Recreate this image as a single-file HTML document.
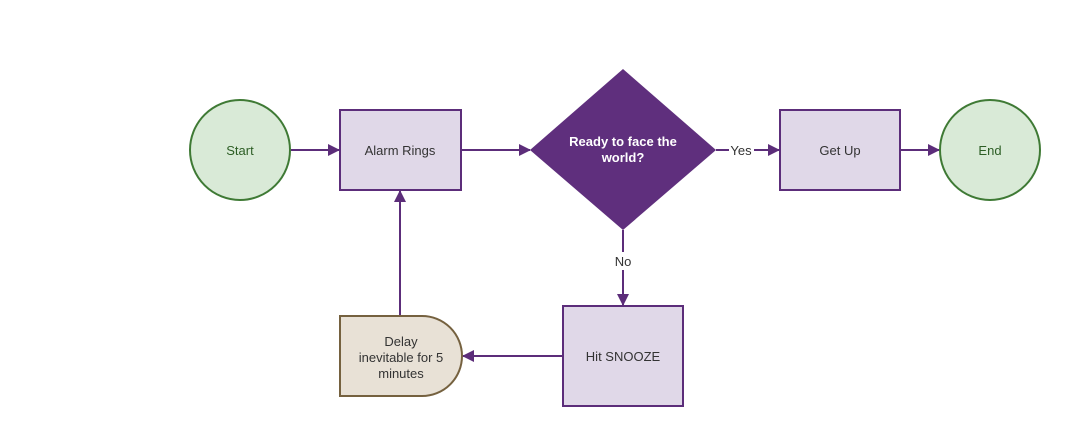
<!DOCTYPE html>
<html><head><style>body{margin:0;background:#fff}svg{display:block}</style></head><body>
<svg width="1066" height="426" viewBox="0 0 1066 426" xmlns="http://www.w3.org/2000/svg" font-family="Liberation Sans, sans-serif" font-size="13">
<defs><marker id="a" markerWidth="12" markerHeight="12" refX="11" refY="6" orient="auto" markerUnits="userSpaceOnUse"><path d="M0,0 L12,6 L0,12 z" fill="#5c2d7a"/></marker></defs>
<g stroke="#5c2d7a" stroke-width="2" fill="none">
<line x1="291" y1="150" x2="339" y2="150" marker-end="url(#a)"/>
<line x1="462" y1="150" x2="530" y2="150" marker-end="url(#a)"/>
<line x1="716" y1="150" x2="729" y2="150"/>
<line x1="754" y1="150" x2="779" y2="150" marker-end="url(#a)"/>
<line x1="901" y1="150" x2="939" y2="150" marker-end="url(#a)"/>
<line x1="623" y1="230" x2="623" y2="252"/>
<line x1="623" y1="270" x2="623" y2="305" marker-end="url(#a)"/>
<line x1="563" y1="356" x2="463" y2="356" marker-end="url(#a)"/>
<line x1="400" y1="316" x2="400" y2="191" marker-end="url(#a)"/>
</g>
<circle cx="240" cy="150" r="50" fill="#d9ead7" stroke="#3f7a35" stroke-width="2"/>
<circle cx="990" cy="150" r="50" fill="#d9ead7" stroke="#3f7a35" stroke-width="2"/>
<rect x="340" y="110" width="121" height="80" fill="#e0d8e8" stroke="#5c2d7a" stroke-width="2"/>
<rect x="780" y="110" width="120" height="80" fill="#e0d8e8" stroke="#5c2d7a" stroke-width="2"/>
<rect x="563" y="306" width="120" height="100" fill="#e0d8e8" stroke="#5c2d7a" stroke-width="2"/>
<path d="M623,69 L716,150 L623,230 L530,150 Z" fill="#5f2f7d"/>
<path d="M340,316 H422 A40,40 0 0 1 422,396 H340 Z" fill="#e8e1d6" stroke="#75613f" stroke-width="2"/>
<g text-anchor="middle" fill="#333">
<text x="240" y="155" fill="#2d5e25">Start</text>
<text x="990" y="155" fill="#2d5e25">End</text>
<text x="400" y="155">Alarm Rings</text>
<text x="840" y="155">Get Up</text>
<text x="623" y="361">Hit SNOOZE</text>
<text x="741" y="155">Yes</text>
<text x="623" y="266">No</text>
<text x="623" y="146" fill="#fff" font-weight="bold">Ready to face the</text>
<text x="623" y="162" fill="#fff" font-weight="bold">world?</text>
<text x="401" y="346">Delay</text>
<text x="401" y="362">inevitable for 5</text>
<text x="401" y="378">minutes</text>
</g>
</svg>
</body></html>
